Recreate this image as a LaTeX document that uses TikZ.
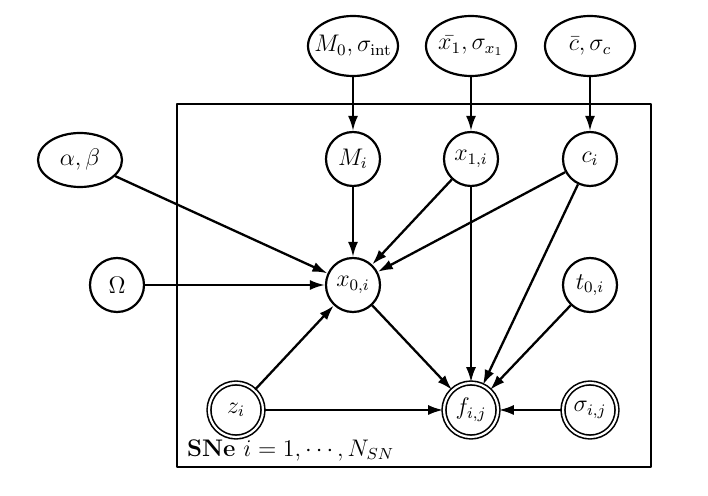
\documentclass[tikz,border=0pt]{standalone}
\usetikzlibrary{shapes.geometric,arrows.meta}
\tikzset{
  latent/.style={circle,draw,line width=1.1pt,minimum size=27pt,inner sep=1pt,fill=white},
  obs/.style={latent,double,double distance=1.1pt,line width=0.8pt},
  hyper/.style={ellipse,draw,line width=1.1pt,minimum width=45pt,minimum height=30pt,inner xsep=-8pt,inner ysep=0pt},
  edge/.style={-{Latex[length=7.5pt,width=5pt]},line width=1.15pt}
}
\begin{document}
\begin{tikzpicture}[x=0.5pt,y=-0.5pt,font=\large,line join=round]
	\useasboundingbox (0,0) rectangle (708,496);
	% plate
	\draw[line width=0.8pt] (177,104) rectangle (651,467);
	\node[anchor=west] (plate) at (180,450) {\textbf{SNe} $i=1,\cdots,N_{SN}$};
	% hyperparameters
	\node[hyper] (M0) at (353,46) {$M_0,\sigma_{\rm int}$};
	\node[hyper] (xbar) at (471,46) {$\bar{x_1},\sigma_{x_1}$};
	\node[hyper] (cbar) at (590,46) {$\bar{c},\sigma_c$};
	\node[hyper,minimum width=42pt,minimum height=27pt] (ab) at (80,160) {$\alpha,\beta$};
	\node[latent] (Om) at (117,285) {$\Omega$};
	% per-SN nodes
	\node[latent] (Mi) at (353,159) {$M_i$};
	\node[latent] (x1) at (471,159) {$x_{1,i}$};
	\node[latent] (ci) at (590,159) {$c_i$};
	\node[latent] (x0) at (353,285) {$x_{0,i}$};
	\node[latent] (t0) at (590,285) {$t_{0,i}$};
	\node[obs] (zi) at (236,410) {$z_i$};
	\node[obs] (fij) at (471,410) {$f_{i,j}$};
	\node[obs] (sij) at (590,410) {$\sigma_{i,j}$};
	% edges
	\draw[edge] (M0) -- (Mi);
	\draw[edge] (xbar) -- (x1);
	\draw[edge] (cbar) -- (ci);
	\draw[edge] (Mi) -- (x0);
	\draw[edge] (x1) -- (x0);
	\draw[edge] (ci) -- (x0);
	\draw[edge] (ab) -- (x0);
	\draw[edge] (Om) -- (x0);
	\draw[edge] (zi) -- (x0);
	\draw[edge] (x1) -- (fij);
	\draw[edge] (ci) -- (fij);
	\draw[edge] (t0) -- (fij);
	\draw[edge] (x0) -- (fij);
	\draw[edge] (zi) -- (fij);
	\draw[edge] (sij) -- (fij);
\end{tikzpicture}
\end{document}
